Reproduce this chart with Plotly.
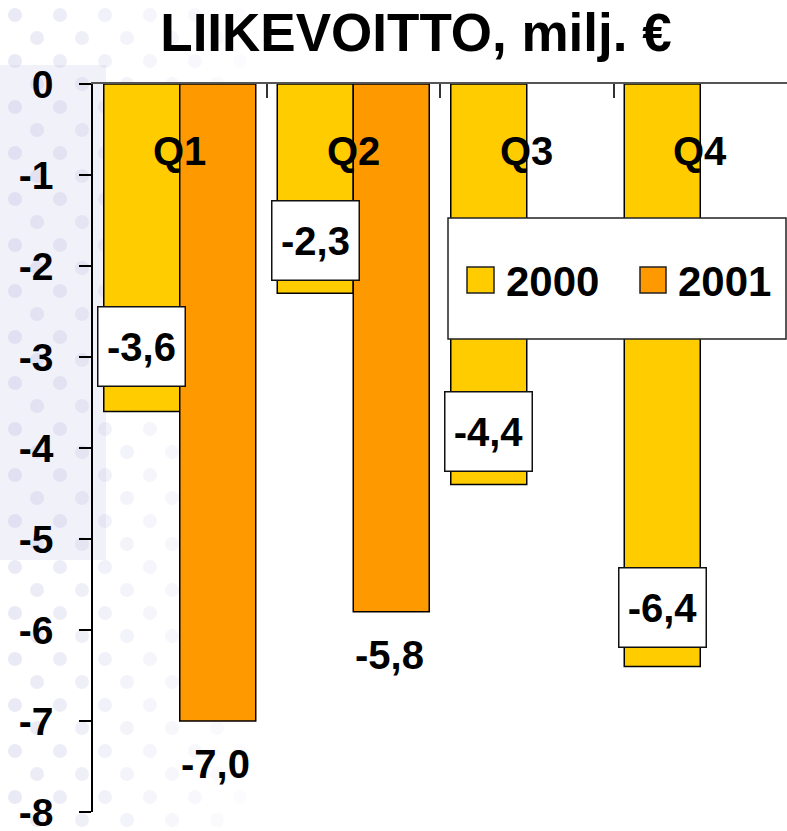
import plotly.graph_objects as go

# ---- data ----
quarters = ["Q1", "Q2", "Q3", "Q4"]
series_names = ["2000", "2001"]
values_2000 = [-3.6, -2.3, -4.4, -6.4]
values_2001 = [-7.0, -5.8, None, None]
labels_2000 = ["-3,6", "-2,3", "-4,4", "-6,4"]
labels_2001 = ["-7,0", "-5,8", None, None]
y_tick_values = [0, -1, -2, -3, -4, -5, -6, -7, -8]
y_tick_labels = ["0", "-1", "-2", "-3", "-4", "-5", "-6", "-7", "-8"]
title_text = "LIIKEVOITTO, milj. €"

# ---- styling ----
W, H = 787, 831
ML, MR, MT, MB = 93, 0, 84, 19
PW, PH = W - ML - MR, H - MT - MB
FONT = "Arial, 'Liberation Sans', sans-serif"
C2000 = "#FFCC00"
C2001 = "#FF9900"
BAR_OFFSET_PX = 38          # half of a bar width (group of two bars)
box_gap_px = [25, 12, 12, 18]


def px_x(px):
    return (px - ML) / PW


def px_y(py):
    return (H - MB - py) / PH


fig = go.Figure()
fig.add_trace(go.Bar(name=series_names[0], x=quarters, y=values_2000,
                     marker=dict(color=C2000, line=dict(color="black", width=1.5)),
                     showlegend=False, hoverinfo="skip"))
fig.add_trace(go.Bar(name=series_names[1], x=quarters, y=values_2001,
                     marker=dict(color=C2001, line=dict(color="black", width=1.5)),
                     showlegend=False, hoverinfo="skip"))

shapes = []
# faint watermark background (decorative)
shapes.append(dict(type="rect", xref="paper", yref="paper", layer="below",
                   x0=px_x(0), x1=px_x(106), y0=px_y(560), y1=px_y(65),
                   fillcolor="#F1F1F9", line=dict(width=0)))
row = 0
yy = 15
while yy < H:
    xx = 15 + (22 if row % 2 else 0)
    while xx < 260:
        a = 0.32 * (1 - xx / 280)
        shapes.append(dict(type="circle", xref="paper", yref="paper", layer="below",
                           x0=px_x(xx - 7), x1=px_x(xx + 7),
                           y0=px_y(yy + 7), y1=px_y(yy - 7),
                           fillcolor=f"rgba(185,185,225,{a:.3f})", line=dict(width=0)))
        xx += 45
    yy += 23
    row += 1

# legend (drawn manually to get large swatches)
shapes.append(dict(type="rect", xref="paper", yref="paper",
                   x0=px_x(448), x1=px_x(786), y0=px_y(339), y1=px_y(218),
                   fillcolor="white", line=dict(color="#222", width=1.5)))
shapes.append(dict(type="rect", xref="paper", yref="paper",
                   x0=px_x(467), x1=px_x(494), y0=px_y(293), y1=px_y(267),
                   fillcolor=C2000, line=dict(color="#222", width=1.5)))
shapes.append(dict(type="rect", xref="paper", yref="paper",
                   x0=px_x(640), x1=px_x(666), y0=px_y(293), y1=px_y(267),
                   fillcolor=C2001, line=dict(color="#222", width=1.5)))

annotations = []
bold40 = dict(family=FONT, size=40, color="black", weight="bold")
annotations.append(dict(xref="paper", yref="paper", x=px_x(504), y=px_y(281),
                        xanchor="left", yanchor="middle", text=series_names[0],
                        showarrow=False, font=dict(family=FONT, size=42, color="black", weight="bold")))
annotations.append(dict(xref="paper", yref="paper", x=px_x(676), y=px_y(281),
                        xanchor="left", yanchor="middle", text=series_names[1],
                        showarrow=False, font=dict(family=FONT, size=42, color="black", weight="bold")))

# category labels inside the plot
for q in quarters:
    annotations.append(dict(x=q, y=-0.74, xref="x", yref="y", text=q, showarrow=False,
                            xanchor="center", yanchor="middle", font=bold40))

# value labels
for q, v, t, g in zip(quarters, values_2000, labels_2000, box_gap_px):
    annotations.append(dict(x=q, y=v, xref="x", yref="y", text=t, showarrow=False,
                            xanchor="center", yanchor="bottom", xshift=-BAR_OFFSET_PX, yshift=g,
                            width=86, height=78, borderpad=0, bgcolor="white",
                            bordercolor="#111", borderwidth=1.5, font=bold40))
for q, v, t in zip(quarters, values_2001, labels_2001):
    if v is None:
        continue
    annotations.append(dict(x=q, y=v, xref="x", yref="y", text=t, showarrow=False,
                            xanchor="center", yanchor="middle", xshift=BAR_OFFSET_PX - 2, yshift=-43,
                            font=bold40))

fig.update_layout(
    width=W, height=H,
    margin=dict(l=ML, r=MR, t=MT, b=MB, pad=0, autoexpand=False),
    paper_bgcolor="white", plot_bgcolor="rgba(0,0,0,0)",
    barmode="group", bargap=0.124, bargroupgap=0,
    title=dict(text=title_text, x=416 / W, xanchor="center", xref="container",
               y=1 - 32 / H, yanchor="middle", yref="container",
               font=dict(family=FONT, size=53, color="black", weight="bold")),
    xaxis=dict(type="category", side="top", showline=True, linecolor="#555", linewidth=1.5,
               ticks="inside", tickson="boundaries", ticklen=14, tickwidth=1.5, tickcolor="#333",
               showticklabels=False, showgrid=False, zeroline=False, range=[-0.5, 3.5],
               fixedrange=True, automargin=False),
    yaxis=dict(range=[-8, 0], tickvals=y_tick_values, ticktext=y_tick_labels,
               showline=True, linecolor="black", linewidth=1.5,
               ticks="outside", ticklen=12, tickwidth=1.5, tickcolor="black",
               ticklabelstandoff=18, ticklabeloverflow="allow",
               tickfont=dict(family=FONT, size=39, color="black", weight="bold"),
               showgrid=False, zeroline=False, fixedrange=True, automargin=False),
    shapes=shapes, annotations=annotations,
    showlegend=False,
)

fig.write_html("out.html", config={"displayModeBar": False},
               post_script="document.body.style.margin='0px';document.body.style.overflow='hidden';")
